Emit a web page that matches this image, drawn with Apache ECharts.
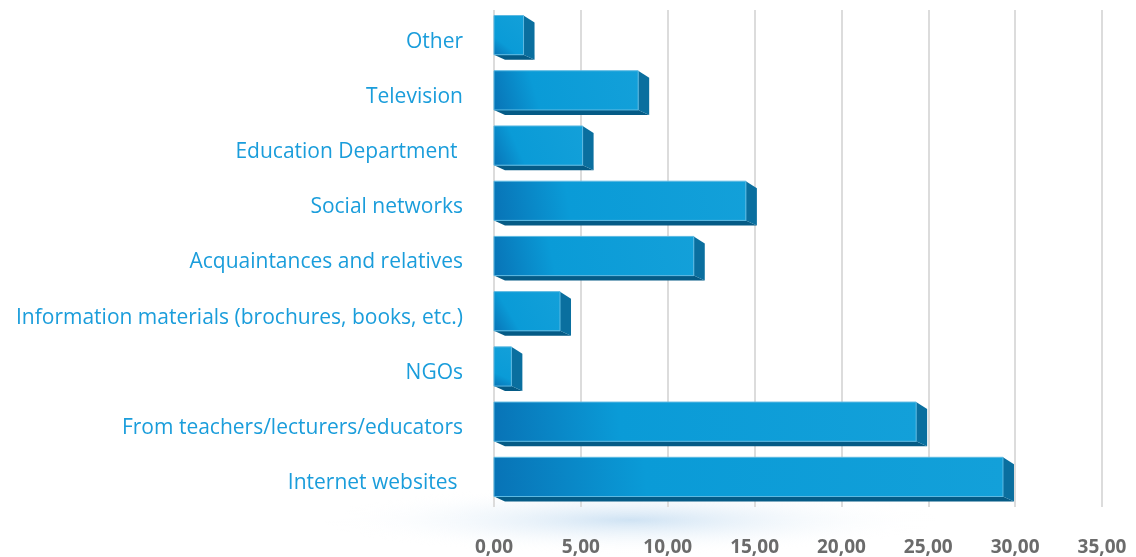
<!DOCTYPE html>
<html>
<head>
<meta charset="utf-8">
<title>Sources of information</title>
<script src="https://cdn.jsdelivr.net/npm/echarts@6/dist/echarts.min.js"></script>
<style>
    html, body { margin: 0; padding: 0; background: #fff; }
    #chart { width: 1136px; height: 557px; }
</style>
</head>
<body>
<div id="chart"></div>
<script>
// categories, top to bottom as shown
var categories = [
    'Other',
    'Television',
    'Education Department ',
    'Social networks',
    'Acquaintances and relatives',
    'Information materials (brochures, books, etc.)',
    'NGOs',
    'From teachers/lecturers/educators',
    'Internet websites '
];
var values = [1.7, 8.3, 5.1, 14.5, 11.5, 3.8, 1.0, 24.3, 29.3];
var xTickLabels = ['0,00', '5,00', '10,00', '15,00', '20,00', '25,00', '30,00', '35,00'];

var chart = echarts.init(document.getElementById('chart'));

// front / side / bottom faces of a 3D bar
function renderBar(params, api) {
    var start = api.coord([0, api.value(1)]);
    var end = api.coord([api.value(0), api.value(1)]);
    var band = api.size([0, 1])[1];
    var x0 = start[0], x1 = end[0];
    var top = end[1] - band * 0.40;
    var bot = end[1] + band * 0.31;
    var dx = 11, dyTop = 7, dyBot = 5;
    return {
        type: 'group',
        children: [
            {
                type: 'polygon',
                shape: {points: [[x0, bot], [x1, bot], [x1 + dx, bot + dyBot], [x0 + dx, bot + dyBot]]},
                style: {fill: '#055b86'}
            },
            {
                type: 'polygon',
                shape: {points: [[x1, top], [x1 + dx, top + dyTop], [x1 + dx, bot + dyBot], [x1, bot]]},
                style: {fill: '#0a6f9f'}
            },
            {
                type: 'rect',
                shape: {x: x0, y: top, width: x1 - x0, height: bot - top},
                style: {
                    fill: new echarts.graphic.LinearGradient(0, 1, 1, 0, [
                        {offset: 0, color: '#0873b6'},
                        {offset: 0.3, color: '#0a9bd7'},
                        {offset: 1, color: '#13a0d9'}
                    ]),
                    stroke: '#5cb9e2',
                    lineWidth: 1
                }
            }
        ]
    };
}

chart.setOption({
    animation: false,
    graphic: [{
        type: 'circle',
        z: -10,
        x: 630,
        y: 520,
        scaleX: 9,
        shape: {cx: 0, cy: 0, r: 34},
        style: {
            fill: new echarts.graphic.RadialGradient(0.5, 0.5, 0.5, [
                {offset: 0, color: 'rgba(175,208,236,0.6)'},
                {offset: 1, color: 'rgba(255,255,255,0)'}
            ])
        }
    }],
    grid: {
        left: 494,
        right: 34,
        top: 10,
        bottom: 50
    },
    xAxis: {
        type: 'value',
        min: 0,
        max: 35,
        interval: 5,
        axisLine: {show: false},
        axisTick: {show: false},
        splitLine: {
            show: true,
            lineStyle: {color: '#dcdcdc', width: 2}
        },
        axisLabel: {
            margin: 31,
            color: '#6b6b6b',
            fontSize: 19,
            fontWeight: 'bold',
            fontFamily: 'Open Sans',
            formatter: function (value) {
                return xTickLabels[Math.round(value / 5)];
            }
        }
    },
    yAxis: {
        type: 'category',
        inverse: true,
        data: categories,
        axisLine: {show: false},
        axisTick: {show: false},
        axisLabel: {
            margin: 31,
            formatter: function (value) {
                return '{a|' + value + '}';
            },
            rich: {
                a: {
                    color: '#1a9ddb',
                    fontSize: 21,
                    fontFamily: 'Open Sans',
                    padding: [8, 0, 0, 0]
                }
            }
        }
    },
    series: [{
        type: 'custom',
        clip: false,
        renderItem: renderBar,
        encode: {x: 0, y: 1},
        data: values.map(function (v, i) {
            return [v, i];
        })
    }]
});
</script>
</body>
</html>
